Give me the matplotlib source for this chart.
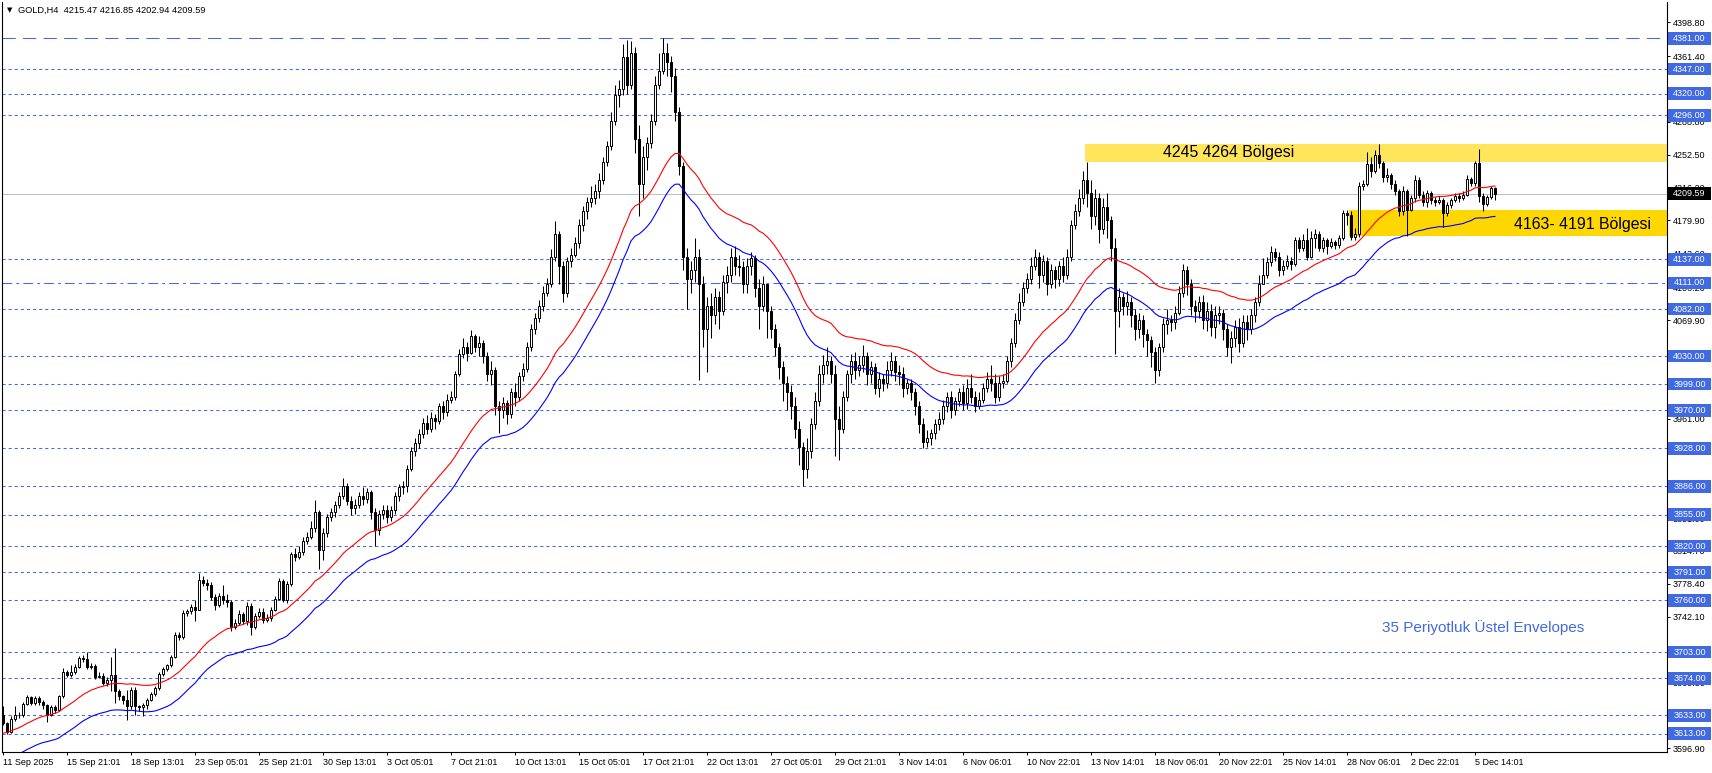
import numpy as np
import matplotlib.pyplot as plt
from matplotlib.patches import Rectangle

plt.rcParams['font.family'] = ['Liberation Sans', 'DejaVu Sans']
plt.rcParams['lines.scale_dashes'] = False

# ---- H4 candles, GOLD, 11 Sep 2025 -> 5 Dec 2025 ----
first_open = 3634

sep_close = [3625, 3615, 3629, 3634, 3633, 3646, 3653, 3647, 3652, 3648,
             3644, 3634, 3642, 3639, 3654, 3681, 3678, 3681, 3687, 3697,
             3695, 3686, 3688, 3676, 3677, 3669, 3672, 3678, 3660, 3654,
             3650, 3643, 3661, 3643, 3642, 3644, 3650, 3657, 3663, 3679,
             3684, 3689, 3698, 3722, 3720, 3746, 3748, 3753, 3750, 3783,
             3779, 3777, 3764, 3755, 3765, 3760, 3758, 3731, 3735, 3745,
             3737, 3754, 3731, 3743, 3747, 3738, 3741, 3750, 3762, 3782,
             3760, 3778, 3811, 3808, 3814, 3826, 3830, 3840, 3858, 3816,
             3835, 3852, 3858]
sep_high = [3643, 3626, 3632, 3643, 3637, 3648, 3656, 3655, 3655, 3654,
            3650, 3646, 3645, 3645, 3656, 3685, 3683, 3689, 3690, 3699,
            3700, 3703, 3691, 3690, 3681, 3680, 3675, 3698, 3707, 3662,
            3656, 3661, 3664, 3664, 3645, 3647, 3652, 3659, 3665, 3681,
            3686, 3690, 3700, 3725, 3725, 3749, 3751, 3756, 3760, 3790,
            3787, 3784, 3780, 3767, 3768, 3777, 3767, 3760, 3740, 3750,
            3747, 3758, 3757, 3746, 3752, 3752, 3745, 3753, 3765, 3785,
            3784, 3781, 3814, 3818, 3820, 3830, 3836, 3848, 3871, 3860,
            3840, 3856, 3862]
sep_low = [3622, 3612, 3614, 3627, 3630, 3631, 3644, 3644, 3645, 3645,
           3640, 3626, 3632, 3636, 3638, 3652, 3675, 3676, 3679, 3685,
           3692, 3684, 3684, 3673, 3674, 3667, 3666, 3660, 3647, 3650,
           3646, 3628, 3640, 3634, 3638, 3632, 3640, 3649, 3655, 3661,
           3677, 3682, 3687, 3696, 3716, 3718, 3743, 3745, 3737, 3749,
           3776, 3772, 3760, 3750, 3753, 3756, 3753, 3726, 3728, 3733,
           3734, 3733, 3722, 3729, 3741, 3735, 3736, 3737, 3748, 3760,
           3758, 3757, 3776, 3804, 3806, 3810, 3822, 3828, 3836, 3795,
           3805, 3830, 3848]

oct_close = [3866, 3875, 3886, 3870, 3862, 3866, 3876, 3872, 3880, 3858, 3838, 3856,
             3860, 3852, 3860, 3875, 3885, 3886, 3905, 3925, 3934, 3944, 3956, 3950,
             3962, 3958, 3975, 3968, 3982, 3985, 4010, 4032, 4040, 4034, 4052, 4040,
             4045, 4030, 4010, 4015, 3975, 3970, 3978, 3966, 3990, 3985, 4008, 4016,
             4040, 4060, 4072, 4085, 4100, 4110, 4140, 4165, 4130, 4100, 4135, 4142,
             4155, 4175, 4190, 4200, 4205, 4212, 4225, 4245, 4262, 4290, 4318, 4325,
             4360, 4330, 4365, 4270, 4220, 4250, 4265, 4290, 4330, 4345, 4365, 4355,
             4340, 4300, 4240, 4140, 4115, 4125, 4140, 4110, 4060, 4085, 4075, 4095,
             4080, 4112, 4120, 4140, 4130, 4128, 4110, 4130, 4138, 4105, 4085, 4110,
             4080, 4060, 4040, 4018, 4000, 3990, 3975, 3950, 3930, 3905, 3925, 3955,
             3980, 4010, 4020, 4025, 4010, 3960, 3950, 3985, 4010, 4025, 4015, 4020,
             4030, 4010, 4018, 3995, 4005, 4000]
oct_high = [3870, 3880, 3895, 3890, 3875, 3872, 3880, 3885, 3884, 3882, 3862, 3860,
            3865, 3866, 3864, 3880, 3889, 3892, 3910, 3930, 3940, 3950, 3962, 3965,
            3968, 3966, 3978, 3980, 3988, 3992, 4014, 4038, 4050, 4046, 4059, 4055,
            4052, 4048, 4035, 4025, 4018, 3980, 3985, 3982, 3995, 4000, 4012, 4022,
            4046, 4066, 4078, 4092, 4108, 4116, 4148, 4179, 4168, 4135, 4140, 4150,
            4162, 4182, 4196, 4206, 4218, 4220, 4232, 4250, 4268, 4300, 4330, 4335,
            4375, 4379, 4378, 4372, 4285, 4262, 4272, 4298, 4340, 4365, 4381, 4376,
            4362, 4348, 4305, 4245, 4150, 4135, 4160, 4148, 4118, 4095, 4100, 4105,
            4102, 4120, 4130, 4150, 4152, 4142, 4135, 4138, 4145, 4142, 4115, 4118,
            4095, 4085, 4065, 4045, 4025, 4008, 3998, 3985, 3958, 3935, 3940, 3962,
            3990, 4020, 4031, 4040, 4030, 4020, 3975, 3992, 4015, 4032, 4035, 4030,
            4042, 4035, 4025, 4022, 4012, 4010]
oct_low = [3852, 3862, 3872, 3865, 3855, 3856, 3862, 3866, 3868, 3850, 3820, 3832,
           3850, 3846, 3848, 3856, 3870, 3878, 3880, 3903, 3920, 3928, 3940, 3944,
           3946, 3950, 3955, 3960, 3964, 3978, 3982, 4008, 4028, 4025, 4032, 4035,
           4030, 4022, 4002, 3998, 3965, 3945, 3962, 3955, 3962, 3975, 3980, 4002,
           4012, 4036, 4055, 4068, 4080, 4096, 4106, 4135, 4110, 4090, 4095, 4128,
           4140, 4150, 4168, 4182, 4195, 4198, 4205, 4220, 4240, 4258, 4285, 4305,
           4318, 4320, 4325, 4255, 4185, 4205, 4236, 4260, 4285, 4325, 4342, 4340,
           4322, 4290, 4230, 4125, 4082, 4100, 4112, 4004, 4040, 4012, 4050, 4065,
           4060, 4075, 4100, 4112, 4120, 4118, 4100, 4100, 4120, 4095, 4060, 4080,
           4050, 4050, 4030, 4005, 3980, 3970, 3960, 3940, 3910, 3886, 3895, 3918,
           3950, 3975, 4000, 4010, 4000, 3920, 3915, 3945, 3980, 4000, 4005, 4008,
           4012, 3998, 4000, 3988, 3985, 3992]

nov_close = [4015, 4025, 4012, 4010, 3995, 4000, 3990, 3975, 3955, 3935, 3940, 3945,
             3955, 3960, 3975, 3985, 3970, 3980, 3990, 3978, 3995, 3985, 3975, 3982,
             3995, 4005, 4000, 3985, 4000, 4002, 4025, 4045, 4070, 4090, 4105, 4115,
             4130, 4140, 4120, 4135, 4110, 4125, 4115, 4130, 4120, 4140, 4175, 4190,
             4205, 4225, 4210, 4185, 4205, 4170, 4195, 4180, 4150, 4080, 4095, 4085,
             4090, 4075, 4060, 4070, 4055, 4048, 4035, 4015, 4040, 4065, 4070, 4068,
             4078, 4100, 4125, 4110, 4085, 4080, 4090, 4070, 4080, 4062, 4075, 4078,
             4060, 4040, 4050, 4062, 4045, 4068, 4060, 4075, 4090, 4110, 4120, 4134,
             4145, 4140, 4125, 4130, 4135, 4132, 4158, 4150, 4158, 4140, 4160, 4165,
             4150, 4158, 4152, 4156, 4153, 4160, 4188, 4186, 4162, 4165, 4218, 4220]
nov_high = [4025, 4035, 4030, 4020, 4018, 4005, 4005, 3995, 3980, 3962, 3948, 3950,
            3960, 3968, 3982, 3990, 3992, 3985, 3995, 3998, 4005, 4010, 3992, 3990,
            4000, 4012, 4020, 4010, 4008, 4010, 4030, 4050, 4078, 4100, 4112, 4122,
            4140, 4148, 4145, 4142, 4140, 4132, 4130, 4135, 4140, 4148, 4180, 4198,
            4215, 4235, 4245, 4225, 4215, 4210, 4205, 4210, 4185, 4160, 4105, 4100,
            4102, 4095, 4082, 4078, 4075, 4060, 4052, 4040, 4045, 4072, 4082, 4075,
            4085, 4108, 4132, 4130, 4115, 4092, 4096, 4098, 4090, 4088, 4085, 4085,
            4082, 4065, 4058, 4070, 4072, 4075, 4075, 4082, 4095, 4120, 4138, 4140,
            4152, 4150, 4145, 4136, 4142, 4140, 4162, 4162, 4165, 4172, 4168, 4170,
            4168, 4162, 4160, 4160, 4158, 4164, 4192, 4192, 4190, 4172, 4222, 4225]
nov_low = [3995, 4008, 4002, 3998, 3985, 3988, 3982, 3965, 3945, 3929, 3930, 3932,
           3938, 3948, 3955, 3968, 3962, 3965, 3975, 3970, 3972, 3978, 3968, 3972,
           3978, 3990, 3992, 3978, 3980, 3995, 4000, 4018, 4040, 4065, 4085, 4100,
           4110, 4125, 4105, 4112, 4098, 4105, 4105, 4108, 4112, 4115, 4135, 4170,
           4185, 4198, 4195, 4170, 4175, 4155, 4165, 4160, 4135, 4032, 4062, 4075,
           4075, 4062, 4048, 4050, 4040, 4030, 4018, 4000, 4008, 4035, 4055, 4058,
           4060, 4075, 4095, 4098, 4075, 4068, 4072, 4060, 4058, 4052, 4050, 4065,
           4048, 4030, 4022, 4040, 4035, 4040, 4048, 4055, 4068, 4085, 4112, 4116,
           4130, 4135, 4118, 4120, 4126, 4125, 4130, 4145, 4146, 4136, 4138, 4150,
           4146, 4145, 4143, 4150, 4148, 4150, 4158, 4175, 4158, 4158, 4162, 4214]

dec_close = [4242, 4235, 4252, 4243, 4228, 4230, 4220, 4212, 4190, 4213, 4192, 4205,
             4225, 4208, 4200, 4210, 4203, 4200, 4203, 4188, 4197, 4202, 4207, 4205,
             4208, 4226, 4221, 4243, 4207, 4198, 4206, 4215.47, 4209.59]
dec_high = [4256, 4250, 4258, 4264, 4246, 4238, 4232, 4225, 4215, 4218, 4215, 4208,
            4230, 4228, 4212, 4214, 4212, 4206, 4207, 4205, 4200, 4205, 4210, 4210,
            4212, 4230, 4228, 4246, 4259, 4210, 4208, 4218, 4216.85]
dec_low = [4218, 4228, 4232, 4238, 4222, 4222, 4215, 4208, 4185, 4186, 4163, 4190,
           4200, 4205, 4196, 4195, 4198, 4196, 4198, 4173, 4185, 4194, 4200, 4200,
           4202, 4207, 4218, 4218, 4200, 4190, 4196, 4204, 4202.94]

# 35-period exponential envelopes
ema_period = 35
ema_seed = 3599
envelope_dev = 0.004

# horizontal levels drawn on the chart
dotted_levels = [4347, 4320, 4296, 4137, 4082, 4030, 3999, 3970, 3928, 3886,
                 3855, 3820, 3791, 3760, 3703, 3674, 3633, 3613]
dashed_level = 4381
dashdot_level = 4111
last_price = 4209.59

# zones
upper_zone = (4245, 4264)
lower_zone = (4163, 4191)
upper_zone_start = 271
lower_zone_start = 337

# axis labels
price_ticks = [4398.80, 4361.40, 4325.10, 4288.80, 4252.50, 4216.20, 4179.90, 4143.60,
               4106.20, 4069.90, 4033.60, 3997.30, 3961.00, 3924.70, 3888.40, 3851.00,
               3814.70, 3778.40, 3742.10, 3705.80, 3669.50, 3633.20, 3596.90]
date_labels = ['11 Sep 2025', '15 Sep 21:01', '18 Sep 13:01', '23 Sep 05:01', '25 Sep 21:01',
               '30 Sep 13:01', '3 Oct 05:01', '7 Oct 21:01', '10 Oct 13:01', '15 Oct 05:01',
               '17 Oct 21:01', '22 Oct 13:01', '27 Oct 05:01', '29 Oct 21:01', '3 Nov 14:01',
               '6 Nov 06:01', '10 Nov 22:01', '13 Nov 14:01', '18 Nov 06:01', '20 Nov 22:01',
               '25 Nov 14:01', '28 Nov 06:01', '2 Dec 22:01', '5 Dec 14:01']
date_step = 16

close = np.array(sep_close + oct_close + nov_close + dec_close, float)
high = np.array(sep_high + oct_high + nov_high + dec_high, float)
low = np.array(sep_low + oct_low + nov_low + dec_low, float)
opn = np.concatenate([[first_open], close[:-1]])
high = np.maximum(high, np.maximum(opn, close))
low = np.minimum(low, np.minimum(opn, close))
n = len(close)
x = np.arange(n)

ema = np.empty(n)
ema[0] = ema_seed
k = 2.0 / (ema_period + 1)
for i in range(1, n):
    ema[i] = ema[i - 1] + k * (close[i] - ema[i - 1])
upper_env = ema * (1 + envelope_dev)
lower_env = ema * (1 - envelope_dev)

W, H = 1712, 773
fig = plt.figure(figsize=(W / 100, H / 100), dpi=100)
ax = fig.add_axes([2 / W, 21 / H, (1667 - 2) / W, (752 - 2) / H])
ax.set_xlim(-0.25, 416)
ax.set_ylim(3592.6, 4421.3)

blue = '#4169E1'

# zones
ax.add_patch(Rectangle((upper_zone_start - 0.5, upper_zone[0]), 420 - upper_zone_start,
                       upper_zone[1] - upper_zone[0], fc='#FFE55C', ec='none', zorder=1))
ax.add_patch(Rectangle((lower_zone_start - 0.5, lower_zone[0]), 420 - lower_zone_start,
                       lower_zone[1] - lower_zone[0], fc='#FFD700', ec='none', zorder=1))

# levels
for lv in dotted_levels:
    ax.axhline(lv, color=blue, lw=0.75, dashes=(2.2, 2.2), zorder=1.5)
ax.axhline(dashed_level, color=blue, lw=0.75, dashes=(9.5, 5.3), zorder=1.5)
ax.axhline(dashdot_level, color=blue, lw=0.75, dashes=(7, 3, 2, 3), zorder=1.5)
ax.axhline(last_price, color='#C0C0C0', lw=0.75, zorder=1.5)

# candles
up = close >= opn
body_lo = np.minimum(opn, close)
body_h = np.maximum(np.abs(close - opn), 0.4)
ax.vlines(x, low, high, color='black', lw=0.75, zorder=3)
ax.bar(x[up], body_h[up], bottom=body_lo[up], width=0.6, facecolor='white',
       edgecolor='black', lw=0.7, zorder=4)
ax.bar(x[~up], body_h[~up], bottom=body_lo[~up], width=0.6, facecolor='black',
       edgecolor='black', lw=0.7, zorder=4)

# envelopes
ax.plot(x, upper_env, color='red', lw=0.8, zorder=5)
ax.plot(x, lower_env, color='blue', lw=0.8, zorder=5)

# zone texts
ax.text(290, sum(upper_zone) / 2, '4245 4264 Bölgesi', fontsize=11.4, va='center', ha='left', zorder=6)
ax.text(377.75, sum(lower_zone) / 2 - 1.5, '4163- 4191 Bölgesi', fontsize=11.4, va='center', ha='left', zorder=6)
ax.text(344.75, 3730, '35 Periyotluk Üstel Envelopes', fontsize=11, color=blue, va='center', ha='left', zorder=6)

# axes styling
for s in ['left', 'right', 'bottom']:
    ax.spines[s].set_linewidth(0.8)
    ax.spines[s].set_color('black')
ax.spines['top'].set_visible(False)

ax.yaxis.tick_right()
ax.set_yticks(price_ticks)
ax.set_yticklabels([f'{v:.2f}' for v in price_ticks])
ax.tick_params(axis='y', length=2.5, width=0.7, pad=1.5, labelsize=6.5, direction='out')
ax.set_xticks(np.arange(len(date_labels)) * date_step)
ax.set_xticklabels(date_labels, ha='left')
ax.tick_params(axis='x', length=2.5, width=0.7, pad=1.5, labelsize=6.5, direction='out')

# right-side level labels
ytr = ax.get_yaxis_transform()
box_w = 43 / 1665
box_h = 12.5 / (750 / (4421.3 - 3592.6))
for lv in dotted_levels + [dashed_level, dashdot_level]:
    ax.add_patch(Rectangle((1 + 1 / 1665, lv - box_h / 2), box_w, box_h, transform=ytr,
                           fc=blue, ec='none', clip_on=False, zorder=7))
    ax.text(1 + 22.5 / 1665, lv, f'{lv:.2f}', transform=ytr, ha='center', va='center',
            color='white', fontsize=6.5, clip_on=False, zorder=8)
ax.add_patch(Rectangle((1 + 1 / 1665, last_price - box_h / 2), box_w, box_h, transform=ytr,
                       fc='black', ec='none', clip_on=False, zorder=7))
ax.text(1 + 22.5 / 1665, last_price, f'{last_price:.2f}', transform=ytr, ha='center', va='center',
        color='white', fontsize=6.5, clip_on=False, zorder=8)

# header
fig.text(7 / W, 1 - 10 / H, '▼', fontsize=5, va='center', ha='left', family=['DejaVu Sans'])
fig.text(18 / W, 1 - 10 / H, 'GOLD,H4  4215.47 4216.85 4202.94 4209.59', fontsize=6.7, va='center', ha='left')

fig.savefig('out.png', dpi=100)
